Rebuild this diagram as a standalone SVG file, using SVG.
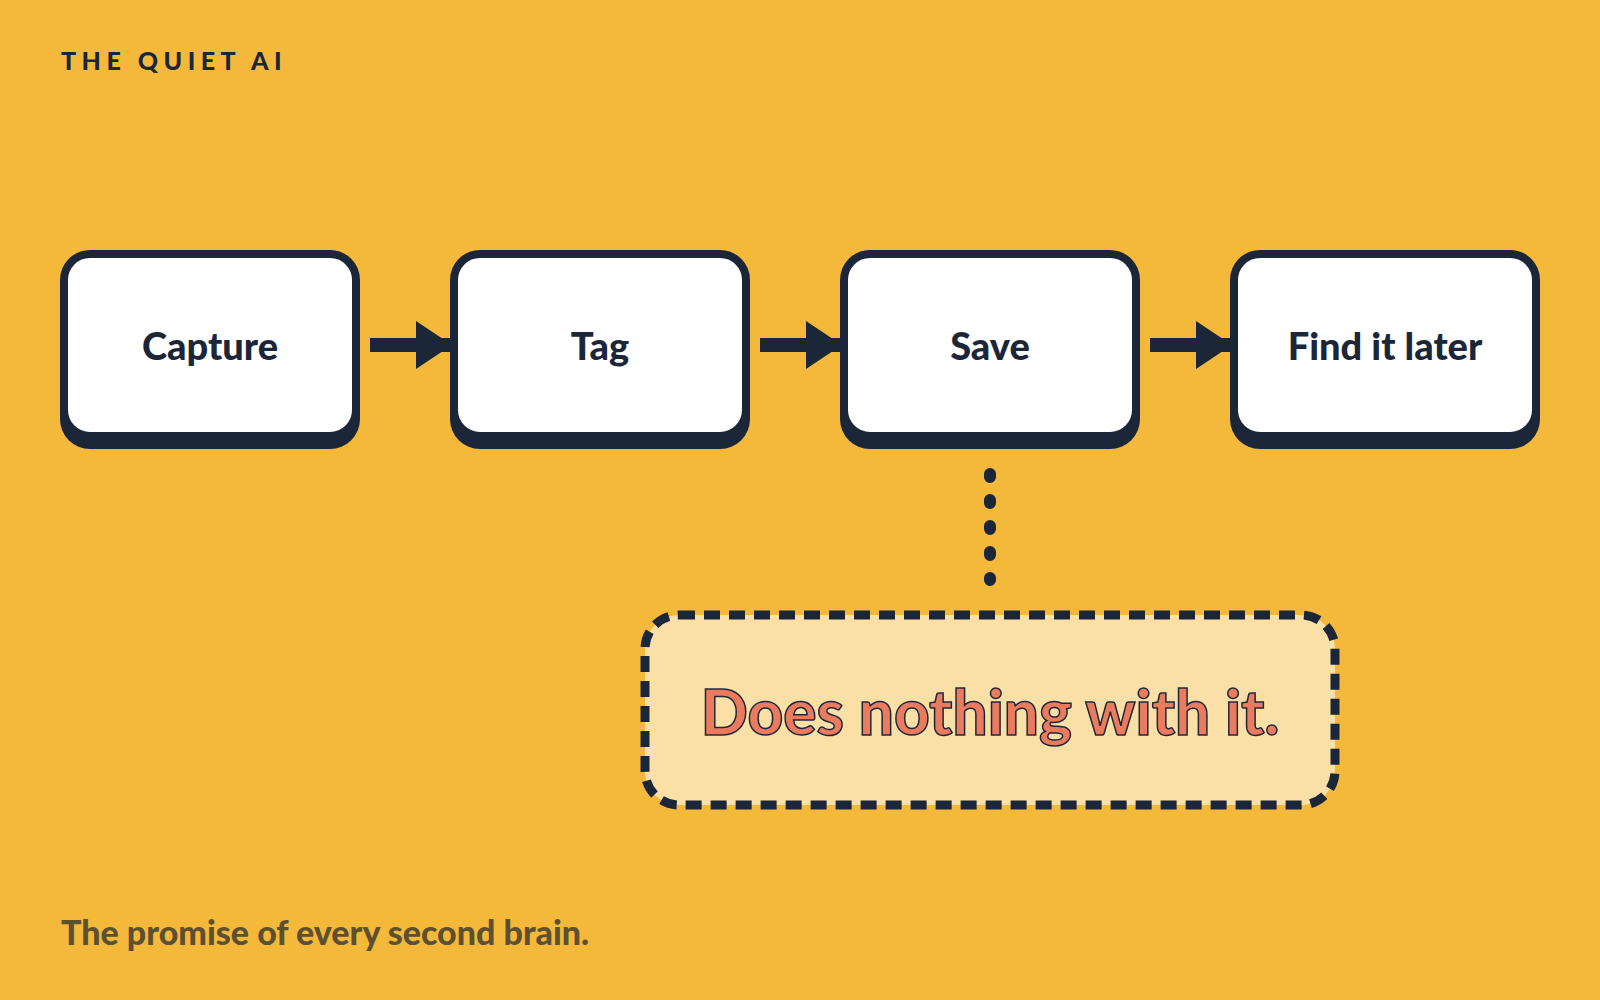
<svg xmlns="http://www.w3.org/2000/svg" width="1600" height="1000" viewBox="0 0 1600 1000">
<style>
.sh{fill:#1B2638}
.bx{fill:#fff;stroke:#1B2638;stroke-width:8}
.lb{font-family:Lato,"Liberation Sans",sans-serif;font-weight:900;font-size:38px;fill:#1B2638;text-anchor:middle}
</style>
<defs>
<marker id="ah" markerWidth="36" markerHeight="48" refX="34" refY="24" markerUnits="userSpaceOnUse" orient="auto"><path d="M0 0L36 24L0 48Z" fill="#1B2638"/></marker>
</defs>
<rect width="1600" height="1000" fill="#F4B93A"/>
<text x="61" y="70" font-family="Lato,'Liberation Sans',sans-serif" font-weight="900" font-size="25" letter-spacing="5.5" fill="#1B2638">THE QUIET AI</text>
<g id="n1"><rect class="sh" x="60" y="262" width="300" height="187" rx="30"/><rect class="bx" x="64" y="254" width="292" height="182" rx="26"/><text class="lb" x="210" y="360">Capture</text></g>
<g id="n2"><rect class="sh" x="450" y="262" width="300" height="187" rx="30"/><rect class="bx" x="454" y="254" width="292" height="182" rx="26"/><text class="lb" x="600" y="360">Tag</text></g>
<g id="n3"><rect class="sh" x="840" y="262" width="300" height="187" rx="30"/><rect class="bx" x="844" y="254" width="292" height="182" rx="26"/><text class="lb" x="990" y="360">Save</text></g>
<g id="n4"><rect class="sh" x="1230" y="262" width="310" height="187" rx="30"/><rect class="bx" x="1234" y="254" width="302" height="182" rx="26"/><text class="lb" x="1385" y="360">Find it later</text></g>
<g id="connectors" stroke="#1B2638" fill="none">
<line x1="370" y1="345" x2="450" y2="345" stroke-width="14" marker-end="url(#ah)"/>
<line x1="760" y1="345" x2="840" y2="345" stroke-width="14" marker-end="url(#ah)"/>
<line x1="1150" y1="345" x2="1230" y2="345" stroke-width="14" marker-end="url(#ah)"/>
<line x1="990" y1="474" x2="990" y2="580" stroke-width="12" stroke-linecap="round" stroke-dasharray="3 23"/>
</g>
<g id="note">
<rect x="645" y="615" width="690" height="190" rx="34" fill="#FAE0A6" stroke="#1B2638" stroke-width="9" stroke-dasharray="16 9"/>
<text x="990" y="735" text-anchor="middle" font-family="Lato,'Liberation Sans',sans-serif" font-weight="900" font-size="62" fill="#EB7B5F" stroke="#1B2638" stroke-width="1.5">Does nothing with it.</text>
</g>
<text x="61" y="945" font-family="Lato,'Liberation Sans',sans-serif" font-weight="900" font-size="34" fill="#5C5030">The promise of every second brain.</text>
</svg>
